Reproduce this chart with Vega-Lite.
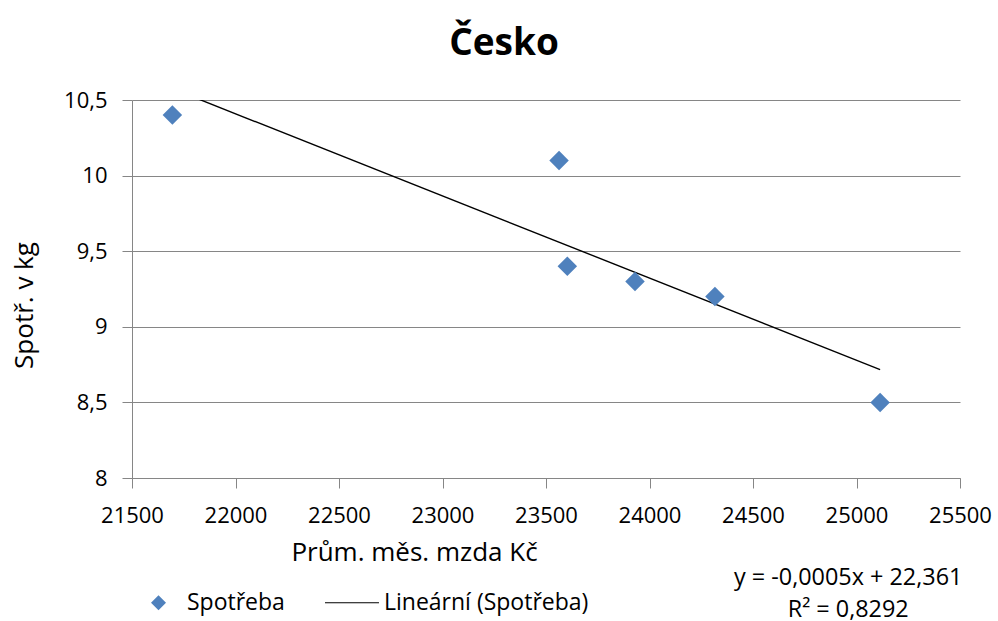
{
  "$schema": "https://vega.github.io/schema/vega-lite/v6.json",
  "width": 828,
  "height": 378,
  "autosize": {"type": "none"},
  "padding": {"left": 132, "top": 100, "right": 38, "bottom": 143},
  "background": "white",
  "config": {
    "font": "Open Sans",
    "view": {"stroke": null},
    "axis": {
      "domainColor": "#868686",
      "tickColor": "#868686",
      "gridColor": "#868686",
      "tickSize": 10,
      "labelFontSize": 22,
      "labelColor": "black",
      "titleFontSize": 26,
      "titleFontWeight": "normal",
      "titleColor": "black",
      "labelFont": "Open Sans",
      "titleFont": "Open Sans"
    }
  },
  "title": {
    "text": "Česko",
    "font": "Open Sans",
    "fontSize": 37,
    "fontWeight": "bold",
    "color": "black",
    "anchor": "middle",
    "dx": -42,
    "dy": 47,
    "offset": 44,
    "baseline": "alphabetic"
  },
  "datasets": {
    "body": [
      {"mzda": 21695, "spotreba": 10.4, "serie": "Spotřeba"},
      {"mzda": 23563, "spotreba": 10.1, "serie": "Spotřeba"},
      {"mzda": 23603, "spotreba": 9.4, "serie": "Spotřeba"},
      {"mzda": 23930, "spotreba": 9.3, "serie": "Spotřeba"},
      {"mzda": 24316, "spotreba": 9.2, "serie": "Spotřeba"},
      {"mzda": 25114, "spotreba": 8.5, "serie": "Spotřeba"}
    ],
    "rovnice": [
      {"mzda": 24960, "spotreba": 7.339, "text": "y = -0,0005x + 22,361"},
      {"mzda": 24960, "spotreba": 7.125, "text": "R² = 0,8292"}
    ]
  },
  "encoding": {
    "x": {
      "field": "mzda",
      "type": "quantitative",
      "scale": {"domain": [21500, 25500], "nice": false, "zero": false},
      "axis": {
        "values": [21500, 22000, 22500, 23000, 23500, 24000, 24500, 25000, 25500],
        "format": "d",
        "grid": false,
        "labelPadding": 17,
        "title": "Prům. měs. mzda Kč",
        "titleX": 282,
        "titleY": 82,
        "titleAlign": "center",
        "titleBaseline": "alphabetic",
        "labelFlush": false,
        "labelOverlap": false
      }
    },
    "y": {
      "field": "spotreba",
      "type": "quantitative",
      "scale": {"domain": [8, 10.5], "nice": false, "zero": false},
      "axis": {
        "values": [8, 8.5, 9, 9.5, 10, 10.5],
        "grid": true,
        "labelPadding": 15,
        "labelExpr": "replace(format(datum.value, '~g'), '.', ',')",
        "title": "Spotř. v kg",
        "titleAngle": 270,
        "titleX": -100,
        "titleY": 205,
        "titleAlign": "center",
        "titleBaseline": "alphabetic",
        "labelOverlap": false
      }
    }
  },
  "layer": [
    {
      "data": {"name": "body"},
      "transform": [{"regression": "spotreba", "on": "mzda"}],
      "mark": {"type": "line", "color": "black", "strokeWidth": 1.4, "clip": true}
    },
    {
      "data": {"name": "body"},
      "mark": {"type": "point", "filled": true, "size": 380, "opacity": 1},
      "encoding": {
        "color": {
          "field": "serie",
          "type": "nominal",
          "scale": {"domain": ["Spotřeba", "Lineární (Spotřeba)"], "range": ["#4f81bd", "#000000"]},
          "legend": {
            "orient": "none",
            "legendX": 15,
            "legendY": 491,
            "direction": "horizontal",
            "title": null,
            "labelFontSize": 23,
            "labelColor": "black",
            "labelFont": "Open Sans",
            "labelLimit": 500,
            "symbolSize": 225,
            "labelOffset": 17,
            "columnPadding": 39,
            "symbolStrokeWidth": 0
          }
        },
        "shape": {
          "field": "serie",
          "type": "nominal",
          "scale": {"domain": ["Spotřeba", "Lineární (Spotřeba)"], "range": ["diamond", "M-4.07,-0.08L3.13,-0.08L3.13,0.08L-4.07,0.08Z"]},
          "legend": {
            "orient": "none",
            "legendX": 15,
            "legendY": 491,
            "direction": "horizontal",
            "title": null,
            "labelFontSize": 23,
            "labelColor": "black",
            "labelFont": "Open Sans",
            "labelLimit": 500,
            "symbolSize": 225,
            "labelOffset": 17,
            "columnPadding": 39,
            "symbolStrokeWidth": 0
          }
        }
      }
    },
    {
      "data": {"name": "rovnice"},
      "mark": {"type": "text", "fontSize": 23.4, "baseline": "middle", "align": "center", "color": "black", "font": "Open Sans"},
      "encoding": {
        "text": {"field": "text", "type": "nominal"}
      }
    }
  ]
}
